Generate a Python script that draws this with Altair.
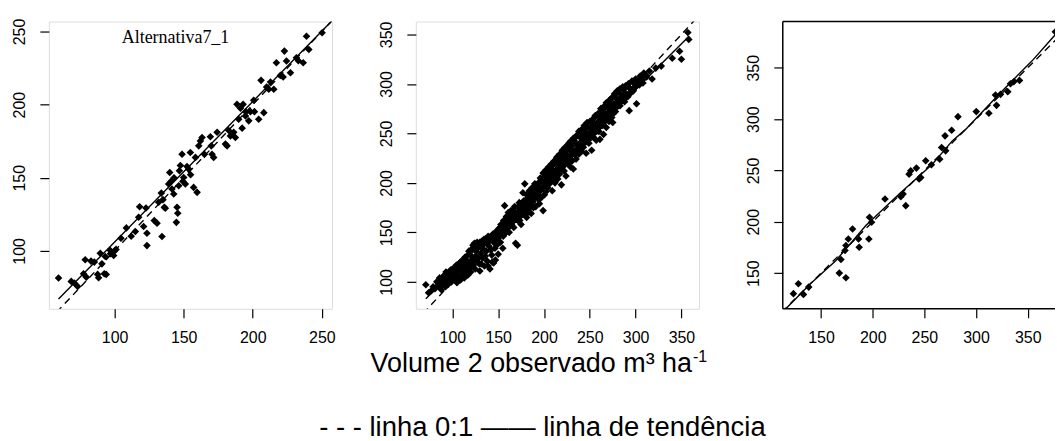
import altair as alt
import pandas as pd

# ---------------- Panel 1 (Alternativa7_1) ----------------
p1_obs = [59.4, 68.6, 70.8, 73.2, 77.5, 78.7, 79.5, 82.9, 85.3, 87.7, 88.4, 89.6, 90.8, 92.5, 93.2,
          93.9, 96.9, 99.3, 100, 104.6, 108.5, 115, 117.4, 118.1, 121, 122.7, 123.4, 123.4, 128.7,
          130.7, 131.9, 133.8, 134.3, 136, 136.7, 139.1, 139.9, 140.8, 141.5, 142.8, 144.7, 145.2,
          145.7, 146.4, 146.9, 147.6, 148.8, 149.5, 150, 151.2, 152.4, 153.6, 154.8, 157.2, 158.5,
          159.7, 160.9, 162.1, 163.3, 169.3, 170, 170.5, 171.7, 174.2, 180.2, 181.4, 182.6, 183.8,
          186.2, 187.4, 188.6, 189.8, 191.1, 192.3, 193, 194.7, 197.1, 198.3, 200.7, 201.2, 204.3,
          206, 208, 211.6, 212.8, 215.2, 217.1, 222, 222.9, 224.4, 227.3, 231.6, 236.5, 238.9,
          240.6, 250.2, 97, 101, 112, 135, 143, 155, 165, 195, 210, 220, 233]
p1_est = [81.4, 79.1, 78, 75.7, 84.3, 93.9, 82, 93, 92.3, 83.9, 81.6, 98.4, 91.1, 84.3, 96.1,
          83.9, 100.2, 96.8, 100, 108.6, 115.7, 113.2, 123, 130.2, 116.6, 129.3, 112, 103.6, 120.7,
          118.9, 133.2, 139.5, 109.8, 129.8, 129.1, 145.7, 153.6, 147.5, 142.3, 138.9, 119.5, 129.8,
          125.7, 144.5, 154.8, 158.4, 166.1, 147.5, 150.2, 145.7, 157.7, 155.9, 167.3, 143.4, 163.9,
          140, 171.8, 175.2, 177.5, 178, 171.8, 166.1, 163.9, 181.1, 173, 171.8, 182.3, 178.6,
          181.1, 177.5, 200.2, 190, 197.5, 183.9, 200.2, 192.3, 188.9, 195.2, 203, 195.2, 190,
          216.6, 194.5, 210.5, 215.5, 210.5, 228.6, 218.9, 236.6, 229.8, 221.8, 232, 228.6, 246.8,
          237.7, 249.1, 98, 101, 110, 135, 150, 152, 166, 195, 212, 220, 230]
p1_trend_x = [59.4, 256.5]
p1_trend_y = [67, 256.5]
p1_line11 = [58, 258]

# ---------------- Panel 2 ----------------
p2_obs = [71, 74, 77, 79, 81, 83, 84, 86, 87, 88, 90, 91, 92, 93, 94, 95, 96, 97, 98, 99, 100,
          101, 102, 103, 104, 105, 106, 107, 108, 109, 110, 111, 112, 113, 114, 115, 116, 117, 118,
          119, 120, 121, 122, 123, 124, 125, 126, 127, 128, 129, 130, 131, 132, 133, 134, 135, 136,
          137, 138, 139, 140, 141, 142, 143, 144, 145, 146, 147, 148, 149, 150, 151, 152, 153, 154,
          155, 156, 157, 158, 159, 160, 161, 162, 163, 164, 165, 166, 167, 168, 169, 170, 171, 172,
          173, 174, 175, 176, 177, 178, 179, 180, 181, 182, 183, 184, 185, 186, 187, 188, 189, 190,
          191, 192, 193, 194, 195, 196, 197, 198, 199, 200, 201, 202, 203, 204, 205, 206, 207, 208,
          209, 210, 211, 212, 213, 214, 215, 216, 217, 218, 219, 220, 221, 222, 223, 224, 225, 226,
          227, 228, 229, 230, 231, 232, 233, 234, 235, 236, 237, 238, 239, 240, 241, 242, 243, 244,
          245, 246, 247, 248, 249, 250, 251, 252, 253, 254, 255, 256, 257, 258, 259, 260, 261, 262,
          263, 264, 265, 266, 267, 268, 269, 270, 271, 272, 273, 274, 275, 276, 277, 278, 280, 282,
          283, 285, 287, 288, 290, 292, 293, 295, 297, 299, 301, 302, 304, 306, 308, 311, 315, 318,
          322, 328, 340, 348, 350, 357, 358,
          102.5, 105.5, 108.5, 111.5, 114.5, 117.5, 120.5, 123.5, 126.5, 129.5, 132.5, 135.5, 138.5,
          141.5, 144.5, 147.5, 150.5, 153.5, 156.5, 159.5, 162.5, 165.5, 168.5, 171.5, 174.5, 177.5,
          180.5, 183.5, 186.5, 189.5, 192.5, 195.5, 198.5, 201.5, 204.5, 207.5, 210.5, 213.5, 216.5,
          219.5, 222.5, 225.5, 228.5, 231.5, 234.5, 237.5, 240.5, 243.5, 246.5, 249.5, 252.5, 255.5,
          258.5, 261.5, 264.5, 267.5, 270.5, 273.5, 276.5, 279.5, 282.5, 285.5, 288.5, 291.5, 294.5,
          297.5, 300.5,
          85, 86.5, 88, 89.5, 91, 92.5, 94, 95.5, 97, 98.5, 100, 101.5, 103, 104.5, 106, 107.5, 109,
          110.5, 112, 113.5, 115, 116.5, 118, 119.5, 121, 122.5, 124, 125.5, 127, 128.5, 130, 131.5,
          133, 134.5, 136, 137.5, 139, 140.5, 142, 143.5, 145, 146.5, 148, 149.5, 151, 152.5, 154,
          155.5, 157, 158.5, 160, 161.5, 163, 164.5, 166, 167.5, 169, 170.5, 172, 173.5, 175, 176.5,
          178, 179.5, 181, 182.5, 184, 185.5, 187, 188.5, 190, 191.5, 193, 194.5, 196, 197.5, 199,
          200.5, 202, 203.5, 205, 206.5, 208, 209.5, 211, 212.5, 214, 215.5, 217, 218.5, 220, 221.5,
          223, 224.5, 226, 227.5, 229, 230.5, 232, 233.5, 235, 236.5, 238, 239.5, 241, 242.5, 244,
          245.5, 247, 248.5, 250, 251.5, 253, 254.5, 256, 257.5, 259, 260.5, 262, 263.5, 265, 266.5,
          268, 269.5, 271, 272.5, 274, 275.5, 277, 278.5, 280, 281.5, 283, 284.5, 286, 287.5, 289,
          290.5, 292, 293.5, 296, 298, 300, 303, 305, 307, 309, 312]
p2_est = [97, 89, 91, 95, 93, 100, 96, 104, 98, 92, 101, 106, 99, 110, 103, 97, 108, 104, 112, 100,
          106, 110, 102, 115, 108, 99, 112, 118, 105, 102, 121, 109, 115, 104, 125, 112, 119, 107,
          128, 114, 110, 122, 134, 117, 139, 113, 126, 140, 120, 136, 111, 129, 141, 124, 138, 116,
          143, 131, 121, 146, 136, 113, 142, 127, 148, 119, 139, 122, 150, 144, 128, 154, 146, 158,
          150, 134, 162, 177, 153, 166, 158, 170, 150, 164, 172, 160, 168, 155, 176, 139, 163, 137,
          171, 180, 166, 158, 174, 190, 170, 199, 178, 165, 184, 173, 188, 177, 169, 192, 181, 196,
          185, 176, 194, 188, 200, 179, 192, 203, 186, 172, 197, 207, 191, 202, 195, 210, 199, 214,
          205, 192, 218, 208, 200, 213, 221, 204, 216, 209, 225, 198, 219, 230, 212, 226, 207, 233,
          220, 240, 226, 216, 237, 229, 214, 243, 233, 224, 248, 238, 229, 250, 241, 232, 246, 236,
          253, 243, 230, 257, 248, 240, 262, 251, 233, 258, 246, 266, 254, 243, 261, 268, 252, 244,
          264, 272, 258, 249, 276, 266, 256, 280, 270, 262, 284, 274, 266, 261, 280, 288, 272, 284,
          291, 278, 287, 294, 282, 289, 297, 273, 291, 302, 296, 280, 303, 299, 306, 301, 309, 313,
          305, 316, 318, 326, 333, 325, 352, 345,
          107, 104, 113, 106, 116, 111, 118, 124, 133, 118, 137, 142, 140, 145, 142, 141, 147, 155,
          148, 160, 157, 165, 170, 162, 176, 173, 183, 180, 186, 190, 198, 195, 201, 199, 204, 209,
          212, 207, 222, 214, 223, 228, 233, 232, 240, 234, 245, 248, 250, 246, 254, 259, 256, 263,
          267, 270, 275, 278, 276, 281, 285, 283, 290, 287, 295, 293, 298,
          96, 102, 97, 105, 100, 95, 107, 101, 110, 103, 113, 104, 111, 117, 106, 113, 120, 108, 118,
          124, 110, 121, 131, 116, 126, 137, 121, 131, 137, 124, 140, 118, 134, 143, 126, 139, 116,
          144, 132, 120, 146, 134, 145, 138, 150, 140, 156, 146, 160, 150, 165, 155, 168, 158, 172,
          162, 170, 167, 176, 162, 179, 168, 182, 175, 188, 170, 192, 181, 195, 175, 199, 187, 195,
          183, 205, 194, 210, 188, 213, 198, 216, 202, 219, 204, 222, 209, 226, 212, 229, 214, 233,
          217, 236, 221, 238, 224, 242, 222, 245, 229, 247, 233, 252, 236, 254, 240, 258, 241, 261,
          243, 255, 247, 264, 250, 268, 252, 270, 256, 275, 260, 277, 262, 281, 265, 283, 268, 286,
          270, 290, 276, 293, 278, 295, 283, 297, 285, 298, 288, 300, 291, 303, 296, 305, 300, 308,
          304, 311, 307]
p2_trend_x = [71, 358]
p2_trend_y = [83, 348]
p2_line11 = [68, 365]

# ---------------- Panel 3 ----------------
p3_obs = [123.3, 128.1, 133, 138.1, 167.7, 169.3, 174.1, 173.2, 174.1, 176.4, 180.5, 186.3, 186.9,
          196.3, 196.9, 198.9, 211.9, 227.2, 229.4, 232, 235.2, 236.8, 242.3, 244.9, 246.5, 251.3,
          256.8, 264.8, 266.7, 270.6, 270, 276.4, 282.5, 300.2, 312.4, 319.8, 318.8, 323.7, 330.7,
          333.3, 336.5, 342, 376.7]
p3_est = [130, 139.6, 129.3, 136.4, 150, 163.3, 145.5, 172, 176.9, 183.3, 193, 183.3, 175.2,
          183.3, 204.4, 199.5, 222.2, 224.4, 227, 215.7, 246.4, 249.7, 252.3, 241.6, 243.2, 259.4,
          255.5, 261, 272.3, 269.1, 283.7, 289.2, 302.4, 307.3, 305.7, 313.4, 323.5, 324.1, 326.7,
          334.5, 336.4, 337.7, 385]
p3_trend_x = [116.9, 140, 164.5, 193.4, 225.6, 257.7, 277, 289.9, 322, 354, 387]
p3_trend_y = [116.3, 140, 162.3, 196.3, 227, 256, 278.8, 290, 324, 356.5, 394]
p3_line11 = [112, 396]

ticks1 = [100, 150, 200, 250]
ticks2 = [100, 150, 200, 250, 300, 350]
ticks3 = [150, 200, 250, 300, 350]

W, H = 284, 288
W3 = 273  # the third panel is cut by the page edge
FONT = "Liberation Sans"
PT_SIZE = 58


def panel(obs, est, tx, ty, l11, xdom, ydom, xt, yt, clip_pts=False):
    xs = alt.Scale(domain=xdom, nice=False, zero=False)
    ys = alt.Scale(domain=ydom, nice=False, zero=False)
    xax = alt.Axis(values=xt, title=None, domain=False, grid=False, tickSize=9,
                   tickColor="black", tickWidth=1.2, labelColor="black", labelFont=FONT,
                   labelFontSize=16, labelPadding=12, labelBaseline="top")
    yax = alt.Axis(values=yt, title=None, domain=False, grid=False, tickSize=9,
                   tickColor="black", tickWidth=1.2, labelColor="black", labelFont=FONT,
                   labelFontSize=16, labelPadding=12, labelAngle=270,
                   labelAlign="center", labelBaseline="bottom")
    pts = alt.Chart(pd.DataFrame({"obs": obs, "est": est})).mark_point(
        shape="diamond", filled=True, size=PT_SIZE, color="black", opacity=1, clip=clip_pts
    ).encode(x=alt.X("obs:Q", scale=xs, axis=xax), y=alt.Y("est:Q", scale=ys, axis=yax))
    one = alt.Chart(pd.DataFrame({"obs": l11, "est": l11})).mark_line(
        strokeDash=[7, 5], color="black", strokeWidth=1.4, clip=True
    ).encode(x=alt.X("obs:Q", scale=xs), y=alt.Y("est:Q", scale=ys))
    trend = alt.Chart(pd.DataFrame({"obs": tx, "est": ty})).mark_line(
        color="black", strokeWidth=1.4, clip=True
    ).encode(x=alt.X("obs:Q", scale=xs), y=alt.Y("est:Q", scale=ys))
    return [pts, one, trend]


def frame_rule(**enc):
    return alt.Chart(pd.DataFrame({"k": [0]})).mark_rule(
        color="black", strokeWidth=1.5
    ).encode(**enc)


l1 = panel(p1_obs, p1_est, p1_trend_x, p1_trend_y, p1_line11,
           [52.4, 257.4], [60.4, 256.8], ticks1, ticks1)
lab1 = alt.Chart(pd.DataFrame({"t": ["Alternativa7_1"]})).mark_text(
    font="Liberation Serif", fontSize=18, color="black", align="center", baseline="alphabetic"
).encode(text="t:N", x=alt.value(127), y=alt.value(21))
c1 = alt.layer(*l1, lab1).properties(width=W, height=H)

l2 = panel(p2_obs, p2_est, p2_trend_x, p2_trend_y, p2_line11,
           [60.1, 369.2], [72.8, 363], ticks2, ticks2)
title_main = alt.Chart(pd.DataFrame({"t": ["Volume 2 observado m³ ha"]})).mark_text(
    font=FONT, fontSize=27, color="black", align="right", baseline="alphabetic"
).encode(text="t:N", x=alt.value(277), y=alt.value(351))
title_sup = alt.Chart(pd.DataFrame({"t": ["-1"]})).mark_text(
    font=FONT, fontSize=16, color="black", align="left", baseline="alphabetic"
).encode(text="t:N", x=alt.value(278), y=alt.value(341))
legend_txt = alt.Chart(pd.DataFrame({"t": ["- - - linha 0:1  —— linha de tendência"]})).mark_text(
    font=FONT, fontSize=27.5, color="black", align="center", baseline="alphabetic"
).encode(text="t:N", x=alt.value(127), y=alt.value(416))
c2 = alt.layer(*l2, title_main, title_sup, legend_txt).properties(width=W, height=H)

l3 = panel(p3_obs, p3_est, p3_trend_x, p3_trend_y, p3_line11,
           [113, 113 + (387 - 113) * W3 / W], [115.3, 395], ticks3, ticks3, clip_pts=True)
left3 = frame_rule(x=alt.value(0), y=alt.value(0), y2=alt.value(H))
top3 = frame_rule(x=alt.value(0), x2=alt.value(W3), y=alt.value(0))
bottom3 = frame_rule(x=alt.value(0), x2=alt.value(W3), y=alt.value(H))
c3 = alt.layer(*l3, left3, top3, bottom3).properties(
    width=W3, height=H, view=alt.ViewConfig(stroke="transparent")
)

chart = alt.hconcat(c1, c2, c3, spacing=84, bounds="flush").properties(
    padding={"left": 11, "top": 17, "right": 0, "bottom": 0}
).configure_view(stroke="black", strokeWidth=1.5).configure(background="white")

chart.save("out.html", embed_options={"renderer": "svg", "actions": False})
